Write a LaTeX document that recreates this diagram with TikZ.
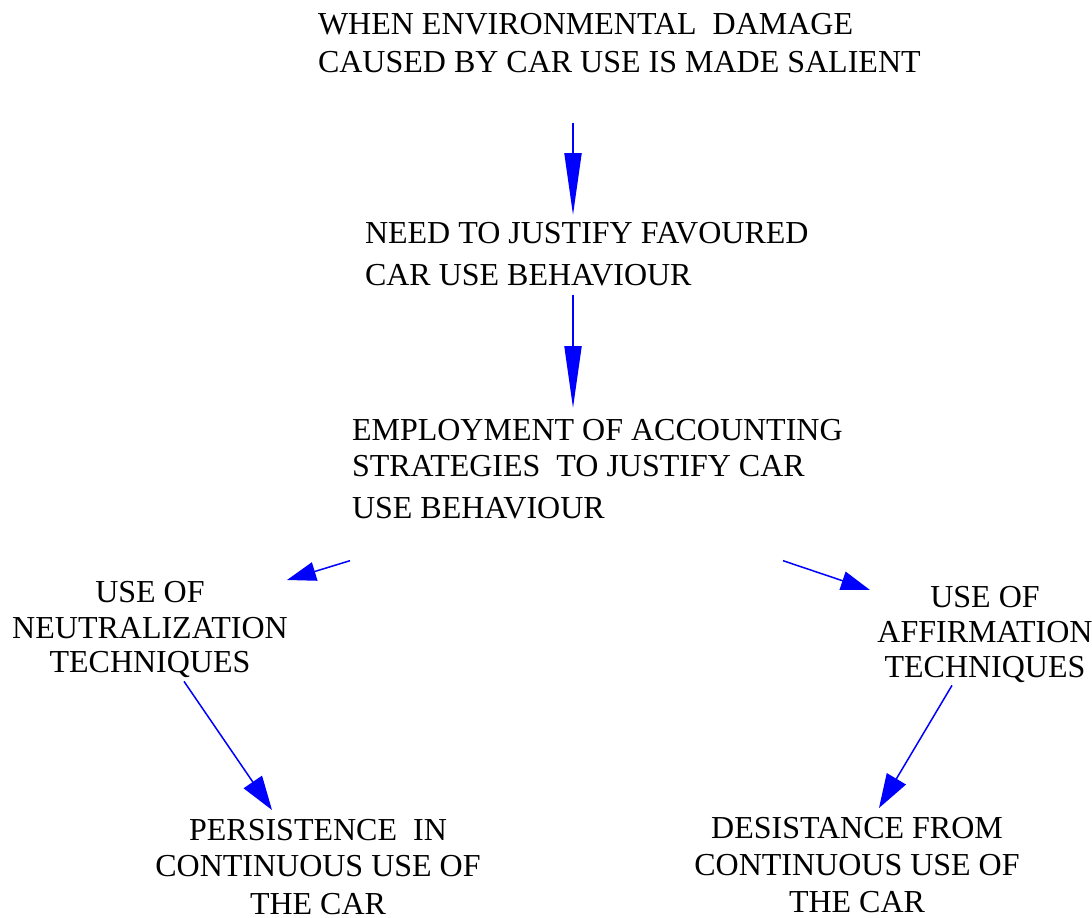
\documentclass[tikz,border=0pt]{standalone}
\usepackage{fontspec}
\setmainfont{Liberation Serif}
\usetikzlibrary{arrows.meta, calc}

\begin{document}
\begin{tikzpicture}[x=1pt,y=-1pt,
  label/.style={inner sep=0pt, outer sep=0pt, font=\fontsize{32}{37}\selectfont},
  bigarr/.style={draw=blue, line width=2pt, -{Triangle[length=62pt,width=17pt]}},
  midarr/.style={draw=blue, line width=1.5pt, -{Triangle[length=29pt,width=19pt]}},
  lowarr/.style={draw=blue, line width=1.5pt, -{Triangle[length=34pt,width=22pt]}}]
\useasboundingbox (0,0) rectangle (1092,918);
\node[label, anchor=north west, align=left] (salient) at (318,13) {WHEN ENVIRONMENTAL~ DAMAGE\\[1pt]CAUSED BY CAR USE IS MADE SALIENT};
\node[label, anchor=north west, align=left] (need) at (365,222) {NEED TO JUSTIFY FAVOURED\\[5pt]CAR USE BEHAVIOUR};
\node[label, anchor=north west, align=left] (employ) at (352,419) {EMPLOYMENT OF ACCOUNTING\\[-1pt]STRATEGIES~ TO JUSTIFY CAR\\[5pt]USE BEHAVIOUR};
\node[label, anchor=north, align=center] (neutral) at (150,581) {USE OF\\[-1pt]NEUTRALIZATION\\[-3pt]TECHNIQUES};
\node[label, anchor=north, align=center] (affirm) at (985,586) {USE OF\\[-2pt]AFFIRMATION\\[-2pt]TECHNIQUES};
\node[label, anchor=north, align=center] (persist) at (318,819) {PERSISTENCE~ IN\\[-1pt]CONTINUOUS USE OF\\[1pt]THE CAR};
\node[label, anchor=north, align=center] (desist) at (857,817) {DESISTANCE FROM\\CONTINUOUS USE OF\\THE CAR};
\draw[bigarr] ($(salient.south west)+(255,50)$) -- ($(need.north west)+(208,-7)$);
\draw[bigarr] ($(need.south west)+(208,9)$) -- ($(employ.north west)+(221,-11)$);
\draw[midarr] ($(employ.south west)+(-2,42)$) -- ($(neutral.north)+(137,-1)$);
\draw[midarr] ($(employ.south west)+(431,42)$) -- ($(affirm.north)+(-115,4)$);
\draw[lowarr] ($(neutral.south)+(34,4)$) -- ($(persist.north)+(-46,-9)$);
\draw[lowarr] ($(affirm.south)+(-33,3)$) -- ($(desist.north)+(22,-9)$);
\end{tikzpicture}
\end{document}
